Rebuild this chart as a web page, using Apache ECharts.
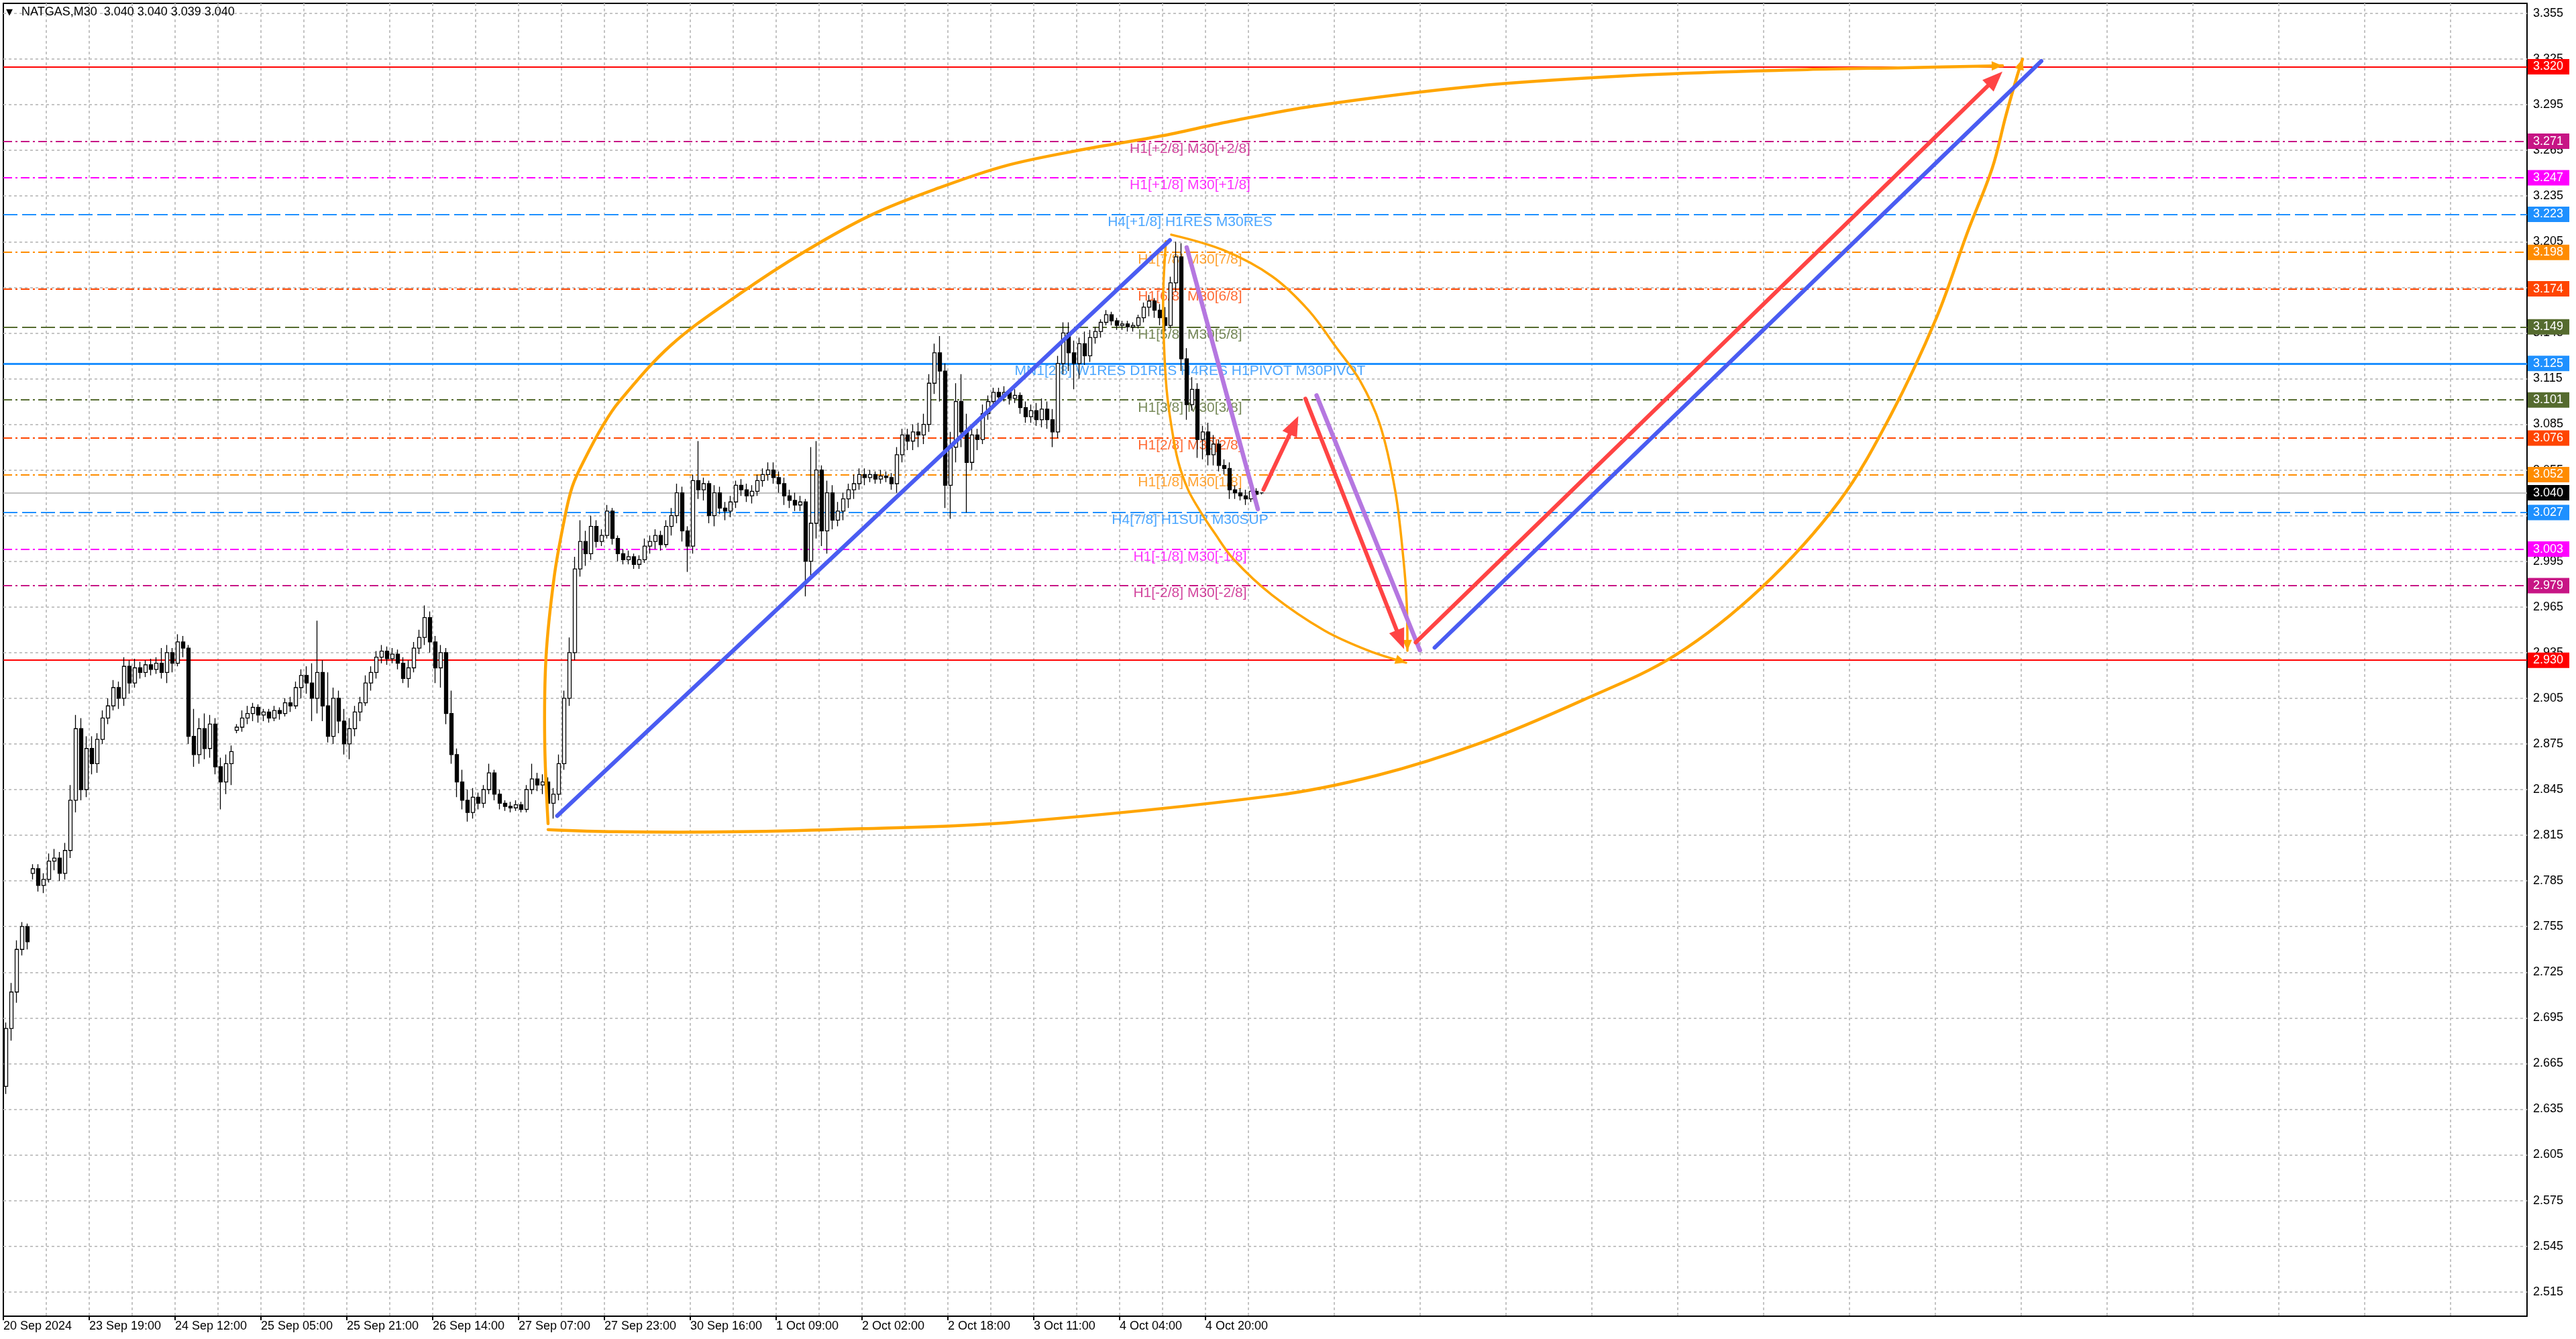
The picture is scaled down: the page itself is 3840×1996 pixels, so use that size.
<!DOCTYPE html>
<html>
<head>
<meta charset="utf-8">
<script src="https://cdn.jsdelivr.net/npm/echarts@6/dist/echarts.min.js"></script>
<style>
html,body{margin:0;padding:0;background:#fff;}
#chart{width:3840px;height:1996px;}
</style>
</head>
<body>
<div id="chart"></div>
<script>
// ---------- DATA ----------
const symbolTitle = 'NATGAS,M30  3.040 3.040 3.039 3.040';
const xLabels = ['20 Sep 2024','23 Sep 19:00','24 Sep 12:00','25 Sep 05:00','25 Sep 21:00','26 Sep 14:00','27 Sep 07:00','27 Sep 23:00','30 Sep 16:00','1 Oct 09:00','2 Oct 02:00','2 Oct 18:00','3 Oct 11:00','4 Oct 04:00','4 Oct 20:00'];
const yTicks = [2.515,2.545,2.575,2.605,2.635,2.665,2.695,2.725,2.755,2.785,2.815,2.845,2.875,2.905,2.935,2.965,2.995,3.025,3.055,3.085,3.115,3.145,3.175,3.205,3.235,3.265,3.295,3.325,3.355];

// hourly candles [open, close, low, high] in thousandths
const candles = [
[2650,2688,2645,2692],[2688,2712,2680,2718],[2712,2740,2705,2746],[2740,2755,2736,2758],[2755,2745,2740,2757],
[2790,2793,2786,2796],[2793,2782,2778,2796],[2782,2786,2777,2790],[2786,2798,2784,2803],[2798,2800,2792,2806],
[2800,2790,2785,2804],[2790,2805,2786,2810],[2805,2838,2800,2848],[2838,2885,2830,2894],[2885,2845,2838,2892],
[2845,2872,2840,2880],[2872,2862,2855,2880],[2862,2878,2856,2882],[2878,2892,2875,2897],[2892,2900,2888,2905],
[2900,2912,2897,2917],[2912,2905,2898,2916],[2905,2926,2900,2932],[2926,2915,2908,2930],[2915,2925,2912,2931],
[2925,2922,2918,2929],[2922,2927,2919,2930],[2927,2924,2920,2931],[2924,2928,2921,2932],[2928,2922,2918,2938],
[2922,2935,2915,2940],[2935,2928,2922,2938],[2928,2942,2926,2947],[2942,2938,2932,2946],[2938,2880,2875,2940],
[2880,2868,2860,2898],[2868,2885,2862,2892],[2885,2872,2865,2895],[2872,2888,2866,2894],[2888,2860,2855,2892],
[2860,2850,2832,2866],[2850,2862,2842,2868],[2862,2870,2848,2874],[2884,2886,2882,2888],[2886,2892,2883,2897],
[2892,2895,2888,2900],[2895,2899,2890,2902],[2899,2894,2889,2901],[2894,2896,2890,2898],[2896,2892,2889,2898],
[2892,2897,2890,2900],[2897,2895,2891,2899],[2895,2902,2893,2905],[2902,2900,2896,2906],[2900,2912,2898,2916],
[2912,2920,2905,2924],[2920,2915,2908,2926],[2915,2905,2890,2928],[2905,2922,2895,2956],[2922,2900,2890,2930],
[2900,2880,2876,2922],[2880,2905,2875,2912],[2905,2890,2882,2910],[2890,2875,2868,2898],[2875,2885,2865,2892],
[2885,2896,2880,2900],[2896,2902,2890,2906],[2902,2915,2900,2920],[2915,2922,2910,2926],[2922,2932,2918,2936],
[2932,2936,2928,2940],[2936,2931,2927,2939],[2931,2934,2928,2938],[2934,2928,2924,2937],[2928,2918,2915,2932],
[2918,2925,2912,2930],[2925,2938,2922,2942],[2938,2945,2934,2950],[2945,2958,2940,2966],[2958,2942,2935,2962],
[2942,2925,2915,2946],[2925,2935,2912,2940],[2935,2895,2888,2938],[2895,2868,2862,2910],[2868,2850,2840,2872],
[2850,2838,2832,2858],[2838,2830,2824,2845],[2830,2840,2826,2846],[2840,2836,2832,2843],[2836,2845,2833,2848],
[2845,2856,2842,2862],[2856,2842,2838,2858],[2842,2836,2832,2845],[2836,2834,2831,2838],[2834,2833,2830,2837],
[2833,2835,2831,2838],[2835,2832,2830,2837],[2832,2845,2830,2848],[2845,2852,2842,2862],[2852,2848,2844,2856],
[2848,2850,2842,2855],[2850,2836,2830,2853],[2836,2842,2826,2846],[2842,2862,2838,2868],[2862,2905,2858,2910],
[2905,2935,2900,2945],[2935,2990,2930,2998],[2990,3008,2985,3022],[3008,3000,2992,3015],[3000,3018,2996,3025],
[3018,3008,3004,3022],[3008,3012,3005,3016],[3012,3028,3010,3032],[3028,3010,3006,3030],[3010,3000,2995,3012],
[3000,2996,2993,3003],[2996,2998,2993,3002],[2998,2993,2990,3000],[2993,2996,2990,2999],[2996,3005,2994,3010],
[3005,3008,3000,3012],[3008,3012,3003,3016],[3012,3006,3002,3015],[3006,3018,3004,3022],[3018,3025,3012,3030],
[3025,3040,3020,3046],[3040,3015,3008,3044],[3015,3005,2988,3018],[3005,3048,3000,3052],[3048,3042,3036,3074],
[3042,3046,3035,3050],[3046,3025,3020,3048],[3025,3040,3018,3045],[3040,3030,3026,3044],[3030,3028,3022,3034],
[3028,3034,3024,3038],[3034,3045,3030,3048],[3045,3042,3038,3049],[3042,3038,3034,3046],[3038,3041,3033,3045],
[3041,3048,3038,3052],[3048,3052,3044,3056],[3052,3055,3048,3060],[3055,3050,3046,3060],[3050,3046,3040,3054],
[3046,3038,3032,3050],[3038,3035,3030,3042],[3035,3032,3028,3040],[3032,3034,3028,3038],[3034,2995,2972,3036],
[2995,3020,2985,3070],[3020,3055,3010,3074],[3055,3015,3005,3058],[3015,3040,3000,3048],[3040,3022,3016,3045],
[3022,3028,3018,3034],[3028,3036,3022,3040],[3036,3042,3030,3046],[3042,3046,3036,3052],[3046,3052,3042,3056],
[3052,3050,3045,3056],[3050,3052,3047,3055],[3052,3049,3046,3054],[3049,3051,3046,3055],[3051,3050,3047,3054],
[3050,3046,3042,3053],[3046,3065,3040,3070],[3065,3078,3060,3082],[3078,3074,3068,3082],[3074,3080,3068,3085],
[3080,3078,3070,3086],[3078,3085,3072,3092],[3085,3112,3080,3118],[3112,3132,3105,3138],[3132,3120,3100,3143],
[3120,3045,3030,3125],[3045,3070,3023,3080],[3070,3100,3060,3112],[3100,3080,3070,3118],[3080,3060,3027,3092],
[3060,3078,3055,3084],[3078,3075,3068,3082],[3075,3092,3072,3098],[3092,3100,3088,3104],[3100,3106,3096,3109],
[3106,3103,3099,3109],[3103,3106,3100,3110],[3106,3102,3098,3108],[3102,3104,3099,3108],[3104,3096,3092,3106],
[3096,3090,3086,3100],[3090,3094,3086,3098],[3094,3088,3084,3099],[3088,3095,3083,3102],[3095,3088,3082,3100],
[3088,3080,3070,3095],[3080,3125,3076,3130],[3125,3145,3118,3152],[3145,3132,3120,3152],[3132,3125,3108,3140],
[3125,3138,3115,3142],[3138,3130,3124,3146],[3130,3142,3126,3147],[3142,3146,3138,3149],[3146,3152,3142,3154],
[3152,3157,3150,3160],[3157,3153,3150,3159],[3153,3150,3147,3155],[3150,3151,3147,3153],[3151,3149,3146,3153],
[3149,3150,3146,3152],[3150,3155,3148,3157],[3155,3162,3152,3165],[3162,3166,3156,3170],[3166,3160,3155,3168],
[3160,3155,3150,3164],[3155,3150,3146,3162],[3150,3178,3148,3182],[3178,3195,3172,3205],[3195,3128,3120,3204],
[3128,3098,3088,3135],[3098,3108,3094,3116],[3108,3075,3063,3112],[3075,3080,3062,3084],[3080,3065,3058,3086],
[3065,3072,3058,3078],[3072,3058,3054,3075],[3058,3056,3052,3062],[3056,3042,3036,3060],[3042,3040,3036,3045],
[3040,3038,3035,3043],[3038,3036,3032,3042],[3036,3041,3034,3043],[3041,3039,3037,3043],[3040,3040,3039,3040]
];

// horizontal levels
const levelValues = [3.320,3.271,3.247,3.223,3.198,3.174,3.149,3.125,3.101,3.076,3.052,3.040,3.027,3.003,2.979,2.930];
const levelColors = ['#FF0000','#C71585','#FF00FF','#1E90FF','#FF8C00','#FF4500','#556B2F','#1E90FF','#556B2F','#FF4500','#FF8C00','#000000','#1E90FF','#FF00FF','#C71585','#FF0000'];
const levelStyles = ['solid','dashdot','dashdot','dash','dashdot','dashdot','dash','solid','dashdot','dashdot','dashdot','bid','dash','dashdot','dashdot','solid'];
const levelTexts = ['','H1[+2/8] M30[+2/8]','H1[+1/8] M30[+1/8]','H4[+1/8] H1RES M30RES','H1[7/8] M30[7/8]','H1[6/8] M30[6/8]','H1[5/8] M30[5/8]','MN1[2/8] W1RES D1RES H4RES H1PIVOT M30PIVOT','H1[3/8] M30[3/8]','H1[2/8] M30[2/8]','H1[1/8] M30[1/8]','','H4[7/8] H1SUP M30SUP','H1[-1/8] M30[-1/8]','H1[-2/8] M30[-2/8]',''];
const levelTextX = 442.25;

// drawings: [barIndex, price]
const blueLines = [[[206.4,2.8277],[434.75,3.206]],[[533.4,2.9383],[759.5,3.3237]]];
const purpleLines = [[[441,3.2012],[467.5,3.0293]],[[489.4,3.104],[527.9,2.9366]]];
const redArrows = [[[469.6,3.0421],[482.6,3.0904]],[[485.25,3.1018],[522,2.9374]],[[526.35,2.9417],[745,3.3167]]];
const bigArcUpper = [[203,2.8226],[201.75,2.8768],[202.25,2.9324],[205.25,2.9844],[208.75,3.0196],[212,3.0439],[216.75,3.0624],[223.5,3.0844],[229.25,3.0994],[248.75,3.1369],[273.75,3.1699],[298.75,3.1986],[323.75,3.2228],[348.75,3.2404],[373.75,3.255],[402.5,3.2656],[431.25,3.2744],[456,3.2836],[488.5,3.2942],[549.75,3.3074],[611,3.3145],[672.25,3.3181],[708.75,3.3193],[745,3.3206]];
const bigArcLower = [[203,2.8187],[228.25,2.8173],[274,2.8173],[320,2.8193],[373.75,2.8232],[473.75,2.8411],[512,2.8544],[550.25,2.8755],[588.5,2.9037],[623,2.9332],[655.5,2.9782],[684.25,3.0346],[703.25,3.0906],[720.5,3.1554],[732,3.2113],[741.25,3.2536],[746.25,3.2876],[750.5,3.314],[752.5,3.325]];
const smallArcLeft = [[433.25,3.2052],[432.25,3.1712],[432.5,3.1395],[433.5,3.1082],[435.25,3.0844],[437.75,3.0611],[441.5,3.0421],[446,3.028],[451.25,3.0139],[458.5,2.9963],[472.75,2.9729],[492.25,2.9496],[508.75,2.9363],[522.75,2.9284]];
const smallArcRight = [[435.25,3.2096],[454.75,3.1994],[472.75,3.1823],[486.25,3.1602],[496.75,3.1355],[505.5,3.1139],[513,3.0849],[518.75,3.0408],[521.75,2.9967],[523,2.9672],[523.25,2.9363]];

// ---------- CHART ----------
const FONT = "'Liberation Sans', Arial, sans-serif";
const DASHES = {solid:'solid', dash:[21,7], dashdot:[13,5,3,5], bid:'solid'};

const candleData = candles.map((c, k) => [2 * k + 1, c[0] / 1000, c[1] / 1000, c[2] / 1000, c[3] / 1000]);

const gridLineData = yTicks.map(v => ({
  yAxis: v,
  label: {formatter: v.toFixed(3)}
}));

const levelLineData = levelValues.map((v, i) => ({
  yAxis: v,
  lineStyle: {
    color: levelStyles[i] === 'bid' ? '#C0C0C0' : levelColors[i],
    type: DASHES[levelStyles[i]],
    width: levelStyles[i] === 'solid' && levelColors[i] === '#1E90FF' ? 3 : 2
  },
  label: {formatter: v.toFixed(3), backgroundColor: levelColors[i]}
}));

const levelTextData = [];
levelValues.forEach((v, i) => {
  if (levelTexts[i]) levelTextData.push({name: levelTexts[i], value: [levelTextX, v], label: {color: levelColors[i]}});
});

function renderDrawings(params, api) {
  const children = [];
  const P = p => api.coord(p);
  const seg = (a, b, color, w) => children.push({
    type: 'line', shape: {x1: a[0], y1: a[1], x2: b[0], y2: b[1]},
    style: {stroke: color, lineWidth: w, lineCap: 'round'}
  });
  const head = (tip, from, color, len, hw) => {
    const dx = tip[0] - from[0], dy = tip[1] - from[1];
    const L = Math.hypot(dx, dy) || 1;
    const ux = dx / L, uy = dy / L;
    const bx = tip[0] - ux * len, by = tip[1] - uy * len;
    children.push({
      type: 'polygon',
      shape: {points: [[tip[0], tip[1]], [bx - uy * hw, by + ux * hw], [bx + uy * hw, by - ux * hw]]},
      style: {fill: color}
    });
    return [bx + ux * 2, by + uy * 2];
  };
  const curve = (pts, color, w) => {
    const px = pts.map(P);
    children.push({type: 'polyline', shape: {points: px, smooth: 0.35},
      style: {stroke: color, lineWidth: w, fill: null, lineCap: 'round'}});
    head(px[px.length - 1], px[px.length - 2], color, 16, 7);
  };
  curve(bigArcUpper, '#FFA500', 4.5);
  curve(bigArcLower, '#FFA500', 4.5);
  curve(smallArcLeft, '#FFA500', 3.5);
  curve(smallArcRight, '#FFA500', 3.5);
  blueLines.forEach(l => seg(P(l[0]), P(l[1]), '#4A5CF2', 6));
  purpleLines.forEach(l => seg(P(l[0]), P(l[1]), '#B577E0', 6.5));
  redArrows.forEach(l => {
    const a = P(l[0]), b = P(l[1]);
    const base = head(b, a, '#FF4444', 30, 12);
    seg(a, base, '#FF4444', 6);
  });
  return {type: 'group', children};
}

const chart = echarts.init(document.getElementById('chart'), null, {renderer: 'canvas'});
chart.setOption({
  animation: false,
  backgroundColor: '#ffffff',
  textStyle: {fontFamily: FONT},
  graphic: [
    {type: 'text', left: 9, top: 12, z: 100, style: {text: '\u25BC', font: "13px 'DejaVu Sans'", fill: '#000'}},
    {type: 'text', left: 32, top: 9, z: 100, style: {text: symbolTitle, font: "18px " + FONT, fill: '#000'}}
  ],
  grid: {left: 5, right: 73, top: 5, bottom: 34, show: true, borderColor: '#000', borderWidth: 2, backgroundColor: 'transparent'},
  xAxis: {
    type: 'value', min: 0, max: 940.5, interval: 32,
    axisLine: {show: true, lineStyle: {color: '#000', width: 2}},
    axisTick: {show: true, length: 6, lineStyle: {color: '#000', width: 2}, customValues: xLabels.map((_, i) => i * 32)},
    axisLabel: {
      show: true, align: 'left', margin: 6, fontSize: 18, color: '#000', fontFamily: FONT,
      showMinLabel: true, showMaxLabel: false,
      formatter: v => { const i = Math.round(v / 32); return (Math.abs(v - i * 32) < 1e-6 && xLabels[i]) ? xLabels[i] : ''; }
    },
    splitLine: {show: true, lineStyle: {color: '#C4C4C4', type: [4, 4], width: 2}},
    minorTick: {show: false, splitNumber: 2},
    minorSplitLine: {show: true, lineStyle: {color: '#C4C4C4', type: [4, 4], width: 2}}
  },
  yAxis: {
    type: 'value', position: 'right', min: 2.499, max: 3.3616, scale: true,
    axisLine: {show: true, lineStyle: {color: '#000', width: 2}},
    axisTick: {show: false}, axisLabel: {show: false}, splitLine: {show: false}
  },
  series: [
    {
      name: 'grid', type: 'line', data: [], z: 1, clip: false, silent: true,
      markLine: {
        z: 1, silent: true, symbol: ['none', 'none'], animation: false, precision: 4,
        lineStyle: {color: '#C4C4C4', type: [4, 4], width: 2},
        label: {show: true, position: 'end', distance: 9, color: '#000', fontSize: 18, fontFamily: FONT},
        data: gridLineData
      }
    },
    {
      name: 'levels', type: 'line', data: [], z: 2, clip: false, silent: true,
      markLine: {
        z: 2, silent: true, symbol: ['none', 'none'], animation: false, precision: 4,
        label: {show: true, position: 'end', distance: 1, color: '#fff', fontSize: 18, fontFamily: FONT,
          padding: [3, 9, 2, 8]},
        data: levelLineData
      }
    },
    {
      name: 'levelText', type: 'scatter', z: 2.5, silent: true, symbolSize: 0,
      data: levelTextData,
      label: {show: true, position: 'bottom', distance: 1, formatter: '{b}', fontSize: 21, fontFamily: FONT}
    },
    {
      name: 'NATGAS', type: 'candlestick', z: 3, silent: true,
      data: candleData, encode: {x: 0, y: [1, 2, 3, 4]},
      barWidth: 5,
      itemStyle: {color: '#ffffff', color0: '#000000', borderColor: '#000000', borderColor0: '#000000', borderWidth: 1.3}
    },
    {
      name: 'drawings', type: 'custom', z: 4, silent: true, clip: false,
      data: [[0, 3]],
      renderItem: renderDrawings
    }
  ]
});
</script>
</body>
</html>
